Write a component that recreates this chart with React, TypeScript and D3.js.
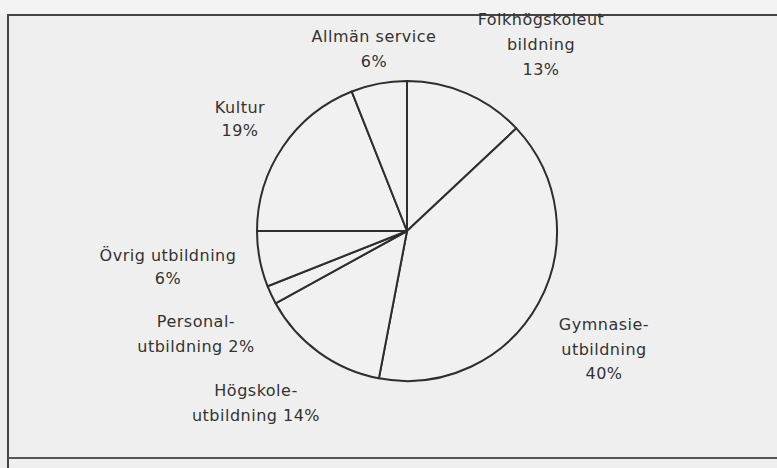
import React from "react";
import * as d3 from "d3";

const categories = [
  "Folkhögskoleutbildning",
  "Gymnasieutbildning",
  "Högskoleutbildning",
  "Personalutbildning",
  "Övrig utbildning",
  "Kultur",
  "Allmän service",
];
const values = [13, 40, 14, 2, 6, 19, 6];
const labelLines = [
  ["Folkhögskoleut", "bildning", "13%"],
  ["Gymnasie-", "utbildning", "40%"],
  ["Högskole-", "utbildning 14%"],
  ["Personal-", "utbildning 2%"],
  ["Övrig utbildning", "6%"],
  ["Kultur", "19%"],
  ["Allmän service", "6%"],
];
// label anchor (center x, first baseline y, line gap)
const labelPos: [number, number, number][] = [
  [541, 25, 25],
  [604, 330, 24.5],
  [256, 396, 25],
  [196, 327, 24.5],
  [168, 261, 23],
  [240, 113, 22.5],
  [374, 42, 25],
];

const W = 777;
const H = 468;
const cx = 407;
const cy = 231;
const R = 150;

export default function App() {
  const pie = d3
    .pie<number>()
    .sort(null)
    .value((d) => d)
    .startAngle(0)
    .endAngle(2 * Math.PI);
  const arcs = pie(values);
  const arc = d3.arc<d3.PieArcDatum<number>>().innerRadius(0).outerRadius(R);

  return (
    <svg
      width={W}
      height={H}
      style={{ position: "absolute", left: 0, top: 0, display: "block" }}
      fontFamily="'DejaVu Sans', sans-serif"
    >
      <rect x={0} y={0} width={W} height={H} fill="#efefef" />
      <rect x={0} y={0} width={W} height={14} fill="#f3f3f3" />
      {/* frame */}
      <line x1={7} y1={15} x2={W} y2={15} stroke="#444" strokeWidth={2} />
      <line x1={8} y1={15} x2={8} y2={H} stroke="#444" strokeWidth={2} />
      <line x1={8} y1={458} x2={W} y2={458} stroke="#555" strokeWidth={2} />
      <g transform={`translate(${cx},${cy})`}>
        {arcs.map((a, i) => (
          <path
            key={categories[i]}
            d={arc(a) || ""}
            fill="#f1f1f1"
            stroke="#2e2e2e"
            strokeWidth={2}
            strokeLinejoin="round"
          />
        ))}
      </g>
      {labelLines.map((lines, i) => (
        <text
          key={categories[i]}
          textAnchor="middle"
          fontSize={16}
          letterSpacing={0.5}
          fill="#333"
        >
          {lines.map((t, j) => (
            <tspan
              key={j}
              x={labelPos[i][0]}
              y={labelPos[i][1] + j * labelPos[i][2]}
            >
              {t}
            </tspan>
          ))}
        </text>
      ))}
    </svg>
  );
}
